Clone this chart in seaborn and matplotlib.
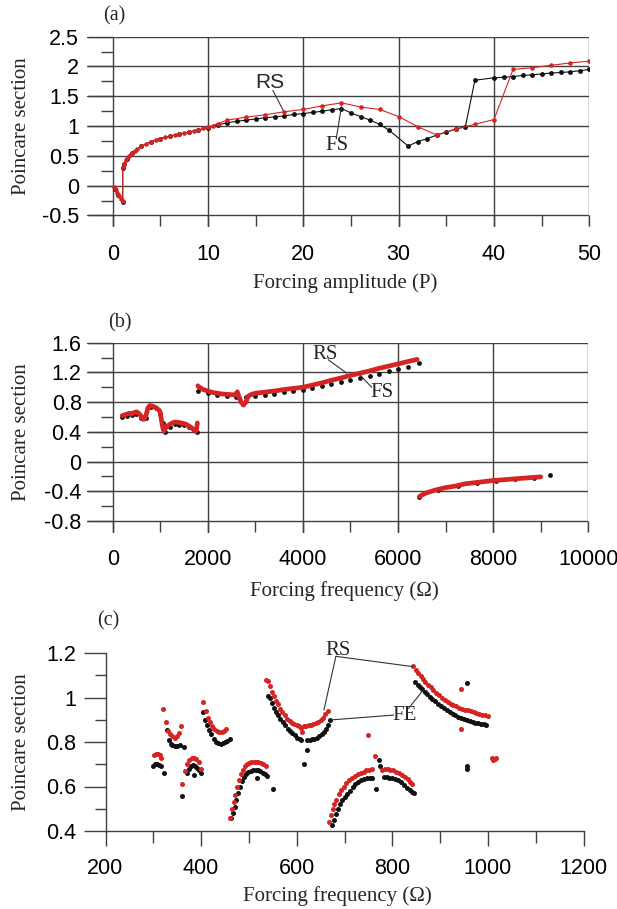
import matplotlib
matplotlib.use("Agg")
import matplotlib.pyplot as plt
import numpy as np
import pandas as pd
import seaborn as sns
from matplotlib.ticker import MultipleLocator, FuncFormatter

# ---------------- data: panel (a) ----------------
a_fs_x = [0.2, 0.6, 1.05, 1.05, 1.2, 1.5, 2, 3, 4, 5, 6, 7, 8, 9, 10, 11, 12, 13, 14, 15,
          16, 17, 18, 19, 20, 21, 22, 23, 24, 25, 26, 27, 28, 29, 31, 32, 33, 34, 35, 36,
          37, 38, 40, 41, 42, 43, 44, 45, 46, 47, 48, 49, 50]
a_fs_y = [-0.05, -0.15, -0.27, 0.30, 0.37, 0.45, 0.55, 0.66, 0.74, 0.79, 0.83, 0.87, 0.90, 0.93,
          0.97, 1.02, 1.055, 1.08, 1.10, 1.12, 1.14, 1.155, 1.17, 1.195, 1.21, 1.23, 1.25,
          1.275, 1.295, 1.22, 1.16, 1.10, 1.03, 0.93, 0.665, 0.74, 0.79, 0.85, 0.90, 0.95,
          0.99, 1.77, 1.81, 1.82, 1.83, 1.85, 1.86, 1.875, 1.89, 1.90, 1.91, 1.93, 1.95]
a_rs_x = [0.1, 0.3, 0.5, 0.7, 0.9, 1.05, 1.05, 1.2, 1.4, 1.6, 1.8, 2.0, 2.3, 2.6, 3.0, 3.5,
          4.0, 4.5, 5.0, 5.5, 6.0, 6.5, 7.0, 7.5, 8.0, 8.5, 9.0, 9.5, 10.0, 10.5, 11, 12, 14,
          16, 18, 20, 22, 24, 26, 28, 30, 32, 34, 36, 38, 40, 42, 44, 46, 48, 50]
a_rs_y = [-0.02, -0.07, -0.12, -0.17, -0.22, -0.26, 0.31, 0.37, 0.43, 0.48, 0.52, 0.55, 0.59,
          0.62, 0.66, 0.70, 0.74, 0.77, 0.79, 0.81, 0.83, 0.85, 0.87, 0.88, 0.90, 0.92, 0.94,
          0.96, 0.98, 1.01, 1.04, 1.10, 1.15, 1.19, 1.24, 1.28, 1.34, 1.39, 1.32, 1.28, 1.16,
          0.99, 0.85, 0.95, 1.03, 1.11, 1.95, 1.98, 2.02, 2.06, 2.09]

# ---------------- data: panel (b) ----------------
b_rs_seg1_x = [200, 250, 300, 350, 400, 450, 500, 550, 600, 630, 660, 700, 740, 780, 820, 860,
               900, 940, 980, 1000, 1020, 1040, 1060, 1080, 1100, 1150, 1200, 1250, 1300, 1350,
               1400, 1450, 1500, 1550, 1600, 1650, 1700, 1740, 1760, 1780]
b_rs_seg1_y = [0.62, 0.63, 0.64, 0.65, 0.64, 0.66, 0.67, 0.65, 0.61, 0.57, 0.57, 0.62, 0.72,
               0.755, 0.75, 0.74, 0.73, 0.71, 0.69, 0.66, 0.58, 0.50, 0.44, 0.41, 0.44, 0.48,
               0.50, 0.52, 0.53, 0.53, 0.525, 0.52, 0.51, 0.50, 0.48, 0.46, 0.43, 0.41, 0.42,
               0.52]
b_rs_seg2_x = [1790, 1800, 1850, 1900, 2000, 2100, 2200, 2300, 2400, 2500, 2580, 2620, 2650,
               2700, 2750, 2800, 2850, 2900, 3000, 3200, 3400, 3600, 3800, 4000, 4200, 4400,
               4600, 4800, 5000, 5200, 5400, 5600, 5800, 6000, 6200, 6400]
b_rs_seg2_y = [1.02, 1.01, 0.99, 0.97, 0.95, 0.93, 0.92, 0.91, 0.905, 0.90, 0.90, 0.94, 0.88,
               0.80, 0.76, 0.80, 0.88, 0.90, 0.92, 0.935, 0.95, 0.97, 0.985, 1.00, 1.03, 1.06,
               1.095, 1.125, 1.16, 1.19, 1.22, 1.255, 1.285, 1.315, 1.345, 1.375]
b_rs_seg3_x = [6450, 6500, 6600, 6700, 6800, 7000, 7200, 7400, 7600, 7800, 8000, 8200, 8400,
               8600, 8800, 9000]
b_rs_seg3_y = [-0.47, -0.45, -0.42, -0.40, -0.38, -0.35, -0.33, -0.30, -0.285, -0.27, -0.255,
               -0.245, -0.235, -0.225, -0.215, -0.205]
b_fs_x = [200, 300, 400, 500, 600, 700, 800, 900, 1000, 1060, 1100, 1200, 1300, 1400, 1500,
          1600, 1700, 1780,
          1800, 2000, 2200, 2400, 2600, 2800, 3000, 3200, 3400, 3600, 3800, 4000, 4200, 4400,
          4600, 4800, 5000, 5200, 5400, 5600, 5800, 6000, 6200, 6450,
          6450, 6850, 7250, 7650, 8050, 8450, 8850, 9200]
b_fs_y = [0.60, 0.62, 0.63, 0.64, 0.58, 0.58, 0.73, 0.72, 0.64, 0.52, 0.40, 0.47, 0.50, 0.49,
          0.49, 0.46, 0.42, 0.40,
          0.95, 0.92, 0.895, 0.88, 0.875, 0.87, 0.885, 0.90, 0.915, 0.93, 0.95, 0.965, 0.99,
          1.015, 1.04, 1.065, 1.095, 1.125, 1.155, 1.185, 1.215, 1.245, 1.275, 1.33,
          -0.47, -0.38, -0.33, -0.285, -0.255, -0.235, -0.215, -0.18]

# ---------------- data: panel (c) ----------------
c_rs_x = [301, 305, 309, 313, 317, 321, 326, 331, 335, 340, 345, 349, 353, 357, 360,
          366, 370, 375, 380, 385, 390, 395, 399,
          405, 410, 414, 418, 423, 428, 433, 438, 443, 448, 453,
          461, 465, 468, 471, 475, 479, 483, 487, 491, 495, 500, 505, 510, 515, 520, 525, 530, 535,
          535, 540, 544, 548, 552, 556, 560, 565, 570, 575, 580, 585, 590, 595, 600, 605, 609,
          612, 616, 620, 625, 630, 635, 640, 645, 650, 655, 660, 665,
          667, 671, 675, 679, 683, 688, 693, 698, 704, 710, 716, 722, 728, 734, 740, 746, 752, 758,
          750, 763,
          778, 784, 790, 796, 802, 808, 814, 820, 826, 832, 838, 842,
          844, 849, 854, 859, 864, 869, 874, 880, 886, 892, 898, 904, 910, 916, 922, 928, 934,
          940, 946, 952, 958, 964, 970, 976, 982, 988, 994, 1000,
          944, 943, 1008, 1011, 1014, 1016]
c_rs_y = [0.74, 0.745, 0.745, 0.74, 0.73, 0.95, 0.89, 0.85, 0.835, 0.825, 0.82, 0.825, 0.84,
          0.87, 0.61,
          0.67, 0.70, 0.72, 0.73, 0.73, 0.725, 0.71, 0.68,
          0.98, 0.94, 0.91, 0.89, 0.87, 0.86, 0.85, 0.845, 0.845, 0.85, 0.86,
          0.46, 0.50, 0.53, 0.56, 0.60, 0.63, 0.655, 0.675, 0.69, 0.70, 0.705, 0.71, 0.71, 0.71,
          0.71, 0.705, 0.70, 0.69,
          1.08, 1.075, 1.05, 1.025, 1.005, 0.985, 0.97, 0.95, 0.935, 0.92, 0.905, 0.895, 0.887,
          0.88, 0.875, 0.87, 0.865,
          0.845, 0.87, 0.873, 0.875, 0.877, 0.88, 0.885, 0.89, 0.898, 0.91, 0.925, 0.94,
          0.44, 0.47, 0.50, 0.52, 0.54, 0.565, 0.585, 0.60, 0.615, 0.627, 0.638, 0.648, 0.655,
          0.661, 0.667, 0.672, 0.676, 0.68,
          0.83, 0.735,
          0.675, 0.677, 0.677, 0.675, 0.672, 0.667, 0.66, 0.652, 0.643, 0.633, 0.62, 0.61,
          1.14, 1.125, 1.11, 1.097, 1.082, 1.07, 1.058, 1.047, 1.035, 1.022, 1.01, 0.999, 0.99,
          0.981, 0.973, 0.966, 0.96, 0.955, 0.95, 0.946, 0.942, 0.938, 0.934, 0.93, 0.927,
          0.923, 0.92, 0.915,
          1.04, 0.86, 0.73, 0.72, 0.725, 0.73]
c_fe_x = [300, 304, 308, 312, 316, 322, 328,
          332, 336, 340, 345, 350, 355, 365, 360,
          371, 375, 379, 383, 387, 391, 395, 399, 386,
          405, 409, 413, 417, 421, 426, 431, 436, 441, 446, 451, 455, 460,
          463, 467, 470, 473, 477, 481, 485, 489, 494, 499, 504, 509, 514, 519, 524, 529, 534, 538,
          516, 551,
          540, 545, 549, 553, 557, 561, 566, 571, 576, 581, 586, 591, 596, 601, 606, 610,
          622, 627, 632, 637, 642, 647, 652, 657, 661, 665, 669, 615, 621,
          674, 678, 682, 686, 690, 695, 700, 705, 711, 717, 723, 729, 735, 741, 747, 753, 758,
          765, 772, 775,
          782, 788, 794, 800, 806, 812, 818, 824, 830, 836, 842, 846,
          848, 853, 858, 863, 868, 873, 878, 884, 890, 896, 902, 908, 914, 920, 926, 932, 938,
          944, 950, 956, 962, 968, 974, 980, 986, 992, 997,
          957, 957, 957]
c_fe_y = [0.69, 0.70, 0.70, 0.695, 0.69, 0.66, 0.855,
          0.81, 0.79, 0.785, 0.78, 0.78, 0.785, 0.778, 0.556,
          0.66, 0.68, 0.69, 0.695, 0.69, 0.685, 0.675, 0.66, 0.65,
          0.935, 0.90, 0.875, 0.855, 0.835, 0.815, 0.80, 0.795, 0.79, 0.795, 0.80, 0.805, 0.815,
          0.46, 0.48, 0.51, 0.54, 0.57, 0.60, 0.625, 0.643, 0.656, 0.665, 0.67, 0.675, 0.675,
          0.673, 0.668, 0.66, 0.655, 0.648,
          0.639, 0.588,
          1.005, 1.0, 0.975, 0.955, 0.935, 0.92, 0.905, 0.89, 0.875, 0.86, 0.85, 0.84, 0.83,
          0.82, 0.812, 0.808,
          0.81, 0.81, 0.812, 0.815, 0.82, 0.826, 0.835, 0.845, 0.86, 0.875, 0.90, 0.70, 0.765,
          0.425, 0.45, 0.475, 0.50, 0.52, 0.54, 0.555, 0.568, 0.58, 0.60, 0.61, 0.62, 0.628,
          0.633, 0.637, 0.64, 0.64,
          0.59, 0.72, 0.69,
          0.643, 0.642, 0.64, 0.636, 0.632, 0.627, 0.618, 0.606, 0.595, 0.585, 0.575, 0.57,
          1.07, 1.057, 1.045, 1.036, 1.025, 1.014, 1.004, 0.994, 0.984, 0.973, 0.963, 0.952,
          0.943, 0.934, 0.926, 0.92, 0.914, 0.909, 0.903, 0.899, 0.895, 0.891, 0.887, 0.884,
          0.881, 0.879, 0.877,
          1.063, 0.69, 0.677]

# ---------------- styling ----------------
sns.set_theme(style="white")
plt.rcParams["font.family"] = ["Liberation Serif", "DejaVu Serif"]
plt.rcParams["axes.unicode_minus"] = False

RED = "#d42424"
BLK = "#111111"
GRID = "#404040"
SANS = ["Liberation Sans", "DejaVu Sans"]
SERIF = ["Liberation Serif", "DejaVu Serif"]
PT = 72 / 100.0  # points per pixel
TICKFS = 15.5

W, H = 617, 909
fig = plt.figure(figsize=(W / 100, H / 100), dpi=100)


def px_axes(l, t, r, b):
    return fig.add_axes([l / W, 1 - b / H, (r - l) / W, (b - t) / H])


fmt = FuncFormatter(lambda v, p: f"{v:g}")


def grid_style(ax, x0, y0, xmaj, xmin, ymaj, ymin, ymajlen, ypad, xpad):
    for s in ax.spines.values():
        s.set_visible(False)
    ax.spines["left"].set_position(("data", x0))
    ax.spines["bottom"].set_position(("data", y0))
    ax.xaxis.set_major_locator(MultipleLocator(xmaj))
    ax.xaxis.set_minor_locator(MultipleLocator(xmin))
    ax.yaxis.set_major_locator(MultipleLocator(ymaj))
    ax.yaxis.set_minor_locator(MultipleLocator(ymin))
    ax.xaxis.set_major_formatter(fmt)
    ax.yaxis.set_major_formatter(fmt)
    ax.grid(True, which="major", color=GRID, lw=1.0)
    ax.tick_params(axis="y", which="major", direction="out", length=ymajlen, width=1.0,
                   color=GRID, pad=ypad, left=True)
    ax.tick_params(axis="y", which="minor", direction="out", length=12 * PT, width=1.0,
                   color=GRID, left=True)
    ax.tick_params(axis="x", which="both", direction="out", length=11.5 * PT, width=1.0,
                   color=GRID, pad=xpad, bottom=True)
    for lab in ax.get_xticklabels() + ax.get_yticklabels():
        lab.set_fontfamily(SANS)
        lab.set_fontsize(TICKFS)
        lab.set_color("black")


def leader(ax, p0, p1):
    ax.annotate("", xy=p1, xytext=p0,
                arrowprops=dict(arrowstyle="-", color="#333333", lw=0.8,
                                shrinkA=0, shrinkB=0))


# ---------------- panel (a) ----------------
ax1 = px_axes(87.3, 36.7, 589.3, 226.7)
dfa_fs = pd.DataFrame({"x": a_fs_x, "y": a_fs_y})
dfa_rs = pd.DataFrame({"x": a_rs_x, "y": a_rs_y})
sns.lineplot(data=dfa_fs, x="x", y="y", sort=False, estimator=None, ax=ax1, color=BLK,
             lw=0.8, marker="o", markersize=3.5, markeredgewidth=0)
sns.lineplot(data=dfa_rs, x="x", y="y", sort=False, estimator=None, ax=ax1, color=RED,
             lw=0.8, marker="o", markersize=3.3, markeredgewidth=0)
ax1.set_xlim(-2.665, 50)
ax1.set_ylim(-0.688, 2.5)
grid_style(ax1, 0, -0.5, 10, 5, 0.5, 0.25, 25.4 * PT, 6, 12)
ax1.set_xlabel("")
ax1.set_ylabel("")
ax1.text(16.5, 1.73, "RS", family=SANS, fontsize=15, ha="center", va="center")
leader(ax1, (16.8, 1.60), (17.9, 1.26))
ax1.text(23.5, 0.68, "FS", family=SERIF, fontsize=15, ha="center", va="center")
leader(ax1, (23.45, 0.79), (24.0, 1.33))

# ---------------- panel (b) ----------------
ax2 = px_axes(87.3, 342.7, 588.3, 533.0)
dfb_rs = pd.DataFrame({
    "x": b_rs_seg1_x + b_rs_seg2_x + b_rs_seg3_x,
    "y": b_rs_seg1_y + b_rs_seg2_y + b_rs_seg3_y,
    "seg": [1] * len(b_rs_seg1_x) + [2] * len(b_rs_seg2_x) + [3] * len(b_rs_seg3_x),
})
dfb_fs = pd.DataFrame({"x": b_fs_x, "y": b_fs_y})
sns.scatterplot(data=dfb_fs, x="x", y="y", ax=ax2, color=BLK, s=12, linewidth=0, zorder=3)
sns.lineplot(data=dfb_rs, x="x", y="y", units="seg", estimator=None, sort=False, ax=ax2,
             color=RED, lw=3.4, solid_capstyle="round", solid_joinstyle="round", zorder=4)
ax2.set_xlim(-534, 10000)
ax2.set_ylim(-0.961, 1.6)
grid_style(ax2, 0, -0.8, 2000, 1000, 0.4, 0.2, 25.4 * PT, 4, 12)
ax2.set_xlabel("")
ax2.set_ylabel("")
ax2.text(4464, 1.44, "RS", family=SERIF, fontsize=15, ha="center", va="center")
leader(ax2, (4533, 1.37), (4920, 1.19))
ax2.text(5656, 0.925, "FS", family=SERIF, fontsize=15, ha="center", va="center")
leader(ax2, (5446, 1.00), (5164, 1.19))

# ---------------- panel (c) ----------------
ax3 = px_axes(105.5, 653.0, 583.5, 831.0)
dfc_rs = pd.DataFrame({"x": c_rs_x, "y": c_rs_y})
dfc_fe = pd.DataFrame({"x": c_fe_x, "y": c_fe_y})
sns.scatterplot(data=dfc_fe, x="x", y="y", ax=ax3, color=BLK, s=13, linewidth=0, zorder=3)
sns.scatterplot(data=dfc_rs, x="x", y="y", ax=ax3, color=RED, s=13, linewidth=0, zorder=3)
ax3.set_xlim(200, 1200)
ax3.set_ylim(0.4, 1.2)
for s in ["top", "right"]:
    ax3.spines[s].set_visible(False)
for s in ["left", "bottom"]:
    ax3.spines[s].set_color(GRID)
    ax3.spines[s].set_linewidth(1.0)
ax3.xaxis.set_major_locator(MultipleLocator(200))
ax3.xaxis.set_minor_locator(MultipleLocator(100))
ax3.yaxis.set_major_locator(MultipleLocator(0.2))
ax3.yaxis.set_minor_locator(MultipleLocator(0.1))
ax3.xaxis.set_major_formatter(fmt)
ax3.yaxis.set_major_formatter(fmt)
ax3.tick_params(axis="y", which="major", direction="out", length=22.5 * PT, width=1.0,
                color=GRID, pad=5, left=True)
ax3.tick_params(axis="y", which="minor", direction="out", length=11 * PT, width=1.0,
                color=GRID, left=True)
ax3.tick_params(axis="x", which="major", direction="out", length=15 * PT, width=1.0,
                color=GRID, pad=9, bottom=True)
ax3.tick_params(axis="x", which="minor", direction="out", length=12 * PT, width=1.0,
                color=GRID, bottom=True)
for lab in ax3.get_xticklabels() + ax3.get_yticklabels():
    lab.set_fontfamily(SANS)
    lab.set_fontsize(TICKFS)
    lab.set_color("black")
ax3.set_xlabel("")
ax3.set_ylabel("")
ax3.text(687, 1.21, "RS", family=SERIF, fontsize=15, ha="center", va="center")
leader(ax3, (682, 1.185), (657, 0.944))
leader(ax3, (682, 1.185), (842, 1.139))
ax3.text(825.5, 0.921, "FE", family=SERIF, fontsize=15, ha="center", va="center")
leader(ax3, (803, 0.921), (670, 0.899))
leader(ax3, (834, 0.951), (862, 1.026))

# ---------------- labels (figure pixel positions) ----------------
def ftext(x, y, s, size=15, **kw):
    fig.text(x / W, 1 - y / H, s, family=SERIF, fontsize=size, ha="center", va="center", **kw)


ftext(114.5, 16, "(a)", size=14.5)
ftext(120, 323, "(b)", size=14.5)
ftext(108, 621, "(c)", size=14.5)
ftext(345, 283, "Forcing amplitude (P)")
ftext(344.5, 591, "Forcing frequency (Ω)")
ftext(337.6, 896, "Forcing frequency (Ω)")
for yc in (126, 432, 742):
    ftext(21.6, yc, "Poincare section", rotation=90)

fig.savefig("out.png", dpi=100)
